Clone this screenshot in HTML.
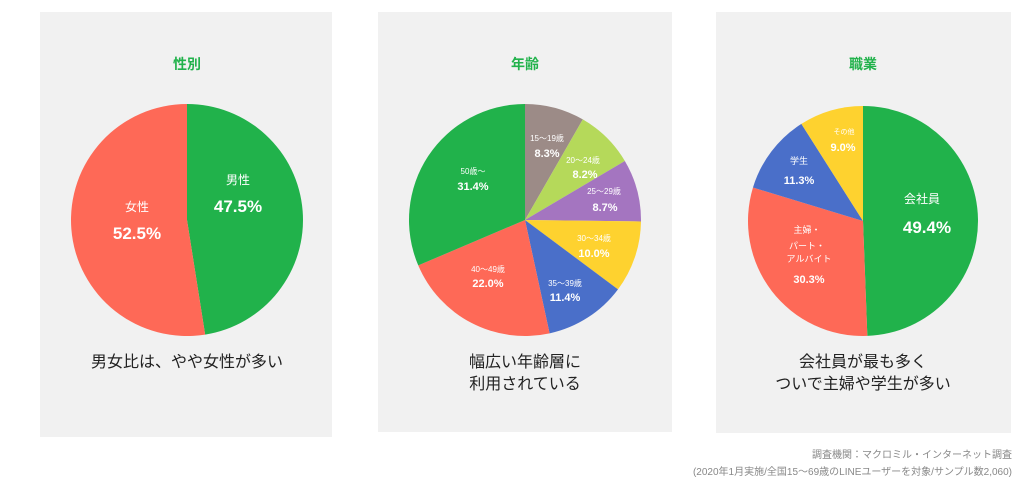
<!DOCTYPE html>
<html><head><meta charset="utf-8"><style>
body{margin:0;width:1024px;height:484px;background:#fff;font-family:"Liberation Sans","Noto Sans CJK JP",sans-serif;overflow:hidden}
svg{position:absolute;left:0;top:0}
</style></head><body>
<svg id="s" width="1024" height="484" xmlns="http://www.w3.org/2000/svg">
<rect x="40" y="12" width="292" height="425" fill="#f1f1f1"/>
<rect x="378" y="12" width="294" height="420" fill="#f1f1f1"/>
<rect x="716" y="12" width="295" height="421" fill="#f1f1f1"/>
<g id="pies"></g>
<g font-family="Liberation Sans, Noto Sans CJK JP, sans-serif" text-anchor="middle">
<g fill="#21b24b" font-weight="bold" font-size="14">
<text x="187" y="69">性別</text><text x="525" y="69">年齢</text><text x="863" y="69">職業</text></g>
<g fill="#fff">
<text x="238" y="184" font-size="12">男性</text><text x="238" y="212" font-size="17" font-weight="bold">47.5%</text>
<text x="137" y="211" font-size="12">女性</text><text x="137" y="239" font-size="17" font-weight="bold">52.5%</text>
<text x="547" y="141" font-size="8">15～19歳</text><text x="547" y="157" font-size="11" font-weight="bold">8.3%</text>
<text x="583" y="163" font-size="8">20～24歳</text><text x="585" y="178" font-size="11" font-weight="bold">8.2%</text>
<text x="604" y="194" font-size="8">25～29歳</text><text x="605" y="211" font-size="11" font-weight="bold">8.7%</text>
<text x="594" y="241" font-size="8">30～34歳</text><text x="594" y="257" font-size="11" font-weight="bold">10.0%</text>
<text x="565" y="286" font-size="8">35～39歳</text><text x="565" y="301" font-size="11" font-weight="bold">11.4%</text>
<text x="488" y="272" font-size="8">40～49歳</text><text x="488" y="287" font-size="11" font-weight="bold">22.0%</text>
<text x="473" y="174" font-size="8">50歳～</text><text x="473" y="190" font-size="11" font-weight="bold">31.4%</text>
<text x="844" y="134" font-size="7">その他</text><text x="843" y="151" font-size="11" font-weight="bold">9.0%</text>
<text x="799" y="164" font-size="9">学生</text><text x="799" y="184" font-size="11" font-weight="bold">11.3%</text>
<text x="922" y="203" font-size="12">会社員</text><text x="927" y="233" font-size="17" font-weight="bold">49.4%</text>
<text x="807" y="233" font-size="9">主婦・</text><text x="807" y="249" font-size="9">パート・</text><text x="809" y="262" font-size="9">アルバイト</text>
<text x="809" y="283" font-size="11" font-weight="bold">30.3%</text>
</g>
<g fill="#222" font-size="16">
<text x="187" y="367">男女比は、やや女性が多い</text>
<text x="525" y="367">幅広い年齢層に</text><text x="525" y="389">利用されている</text>
<text x="863" y="367">会社員が最も多く</text><text x="863" y="389">ついで主婦や学生が多い</text>
</g>
<g fill="#888" font-size="10" text-anchor="end">
<text x="1012" y="458">調査機関：マクロミル・インターネット調査</text>
<text x="1012" y="475">(2020年1月実施/全国15～69歳のLINEユーザーを対象/サンプル数2,060)</text>
</g></g>
</svg>
<script>
var g=document.getElementById('pies');
function pie(cx,cy,r,d){var a=0;d.forEach(function(p){var a1=a+p[0]/100*2*Math.PI;
var x0=cx+r*Math.sin(a),y0=cy-r*Math.cos(a),x1=cx+r*Math.sin(a1),y1=cy-r*Math.cos(a1);
var e=document.createElementNS('http://www.w3.org/2000/svg','path');
e.setAttribute('d','M'+cx+' '+cy+'L'+x0+' '+y0+'A'+r+' '+r+' 0 '+((a1-a)>Math.PI?1:0)+' 1 '+x1+' '+y1+'Z');
e.setAttribute('fill',p[1]);g.appendChild(e);a=a1;});}
pie(187,220,116,[[47.5,'#21b24b'],[52.5,'#fe6957']]);
pie(525,220,116,[[8.3,'#9c8b87'],[8.2,'#b5d95a'],[8.7,'#a475c0'],[10,'#fed22f'],[11.4,'#4a6fc9'],[22,'#fe6957'],[31.4,'#21b24b']]);
pie(863,221,115,[[49.4,'#21b24b'],[30.3,'#fe6957'],[11.3,'#4a6fc9'],[9,'#fed22f']]);
</script>
</body></html>
